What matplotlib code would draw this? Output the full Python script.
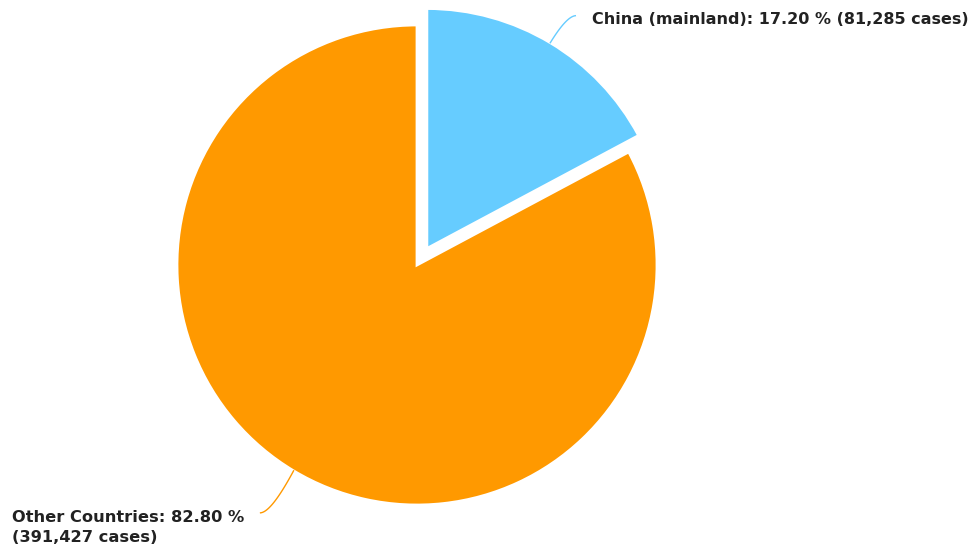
import numpy as np
import matplotlib.pyplot as plt

# data
labels = ["China (mainland)", "Other Countries"]
cases = [81285, 391427]
colors = ["#66CCFF", "#FF9900"]

W, H = 976, 558
fig = plt.figure(figsize=(W / 100, H / 100), dpi=100)
ax = fig.add_axes([0, 0, 1, 1])

cx, cy, r = 417, H - 265, 240
# explode is in data units here (pixels)
explode = [0.08 * r, 0]

wedges, _ = ax.pie(cases, colors=colors, startangle=90, counterclock=False,
                   explode=explode, center=(cx, cy), radius=r,
                   wedgeprops=dict(edgecolor="white", linewidth=2))
ax.set_xlim(0, W)
ax.set_ylim(0, H)
ax.set_aspect("equal")
ax.axis("off")

total = sum(cases)
pcts = [c / total * 100 for c in cases]

# label texts and connectors (smooth curves)
t = np.linspace(0, 1, 30)
for i, w in enumerate(wedges):
    mid = np.deg2rad((w.theta1 + w.theta2) / 2)
    wx, wy = w.center
    px, py = wx + r * np.cos(mid), wy + r * np.sin(mid)
    if i == 0:
        txt = f"{labels[i]}: {pcts[i]:.2f} % ({cases[i]:,} cases)"
        lx, ly = px + 25, py + 27
        kx, ky = lx - 9, ly - 1
        bx = (1 - t) ** 2 * px + 2 * (1 - t) * t * kx + t ** 2 * lx
        by = (1 - t) ** 2 * py + 2 * (1 - t) * t * ky + t ** 2 * ly
        ax.plot(bx, by, color=colors[i], lw=1)
        ax.text(lx + 17, ly - 4, txt, ha="left", va="center", fontsize=11.5,
                fontweight="bold", color="#222222")
    else:
        txt = f"{labels[i]}: {pcts[i]:.2f} %\n({cases[i]:,} cases)"
        lx, ly = px - 33, py - 42
        kx, ky = lx + 11, ly + 1
        bx = (1 - t) ** 2 * px + 2 * (1 - t) * t * kx + t ** 2 * lx
        by = (1 - t) ** 2 * py + 2 * (1 - t) * t * ky + t ** 2 * ly
        ax.plot(bx, by, color=colors[i], lw=1)
        ax.text(12, ly + 3, txt, ha="left", va="top", fontsize=11.7,
                fontweight="bold", color="#222222", linespacing=1.45)

fig.savefig("out.png", dpi=100)
